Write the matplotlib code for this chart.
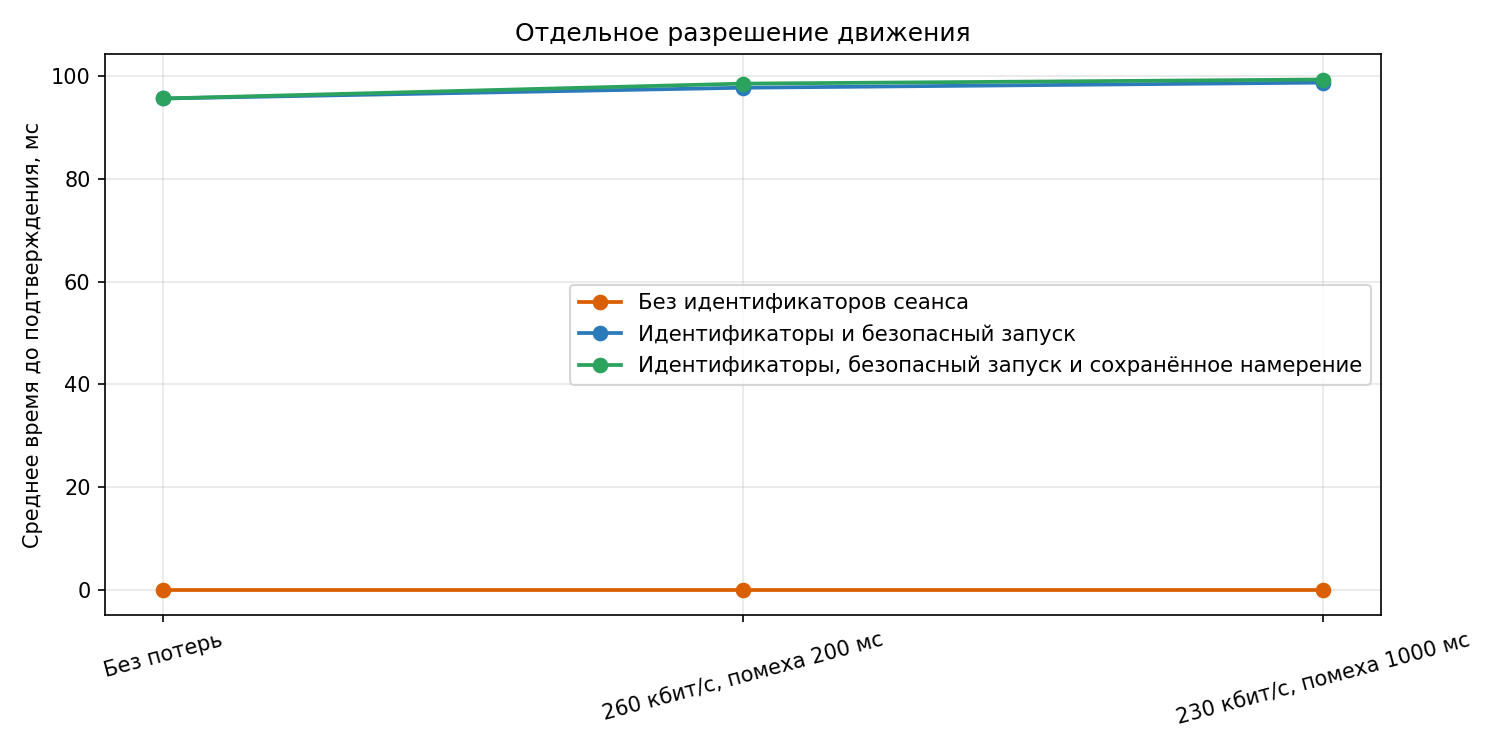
import numpy as np
import matplotlib
matplotlib.use("Agg")
import matplotlib.pyplot as plt

# conditions on the x axis
conditions = ["Без потерь", "260 кбит/с, помеха 200 мс", "230 кбит/с, помеха 1000 мс"]

# mean time to confirmation, ms
no_ids = [0.0, 0.0, 0.0]
ids_safe = [95.7, 97.8, 98.8]
ids_safe_intent = [95.7, 98.6, 99.4]

labels = ["Без идентификаторов сеанса",
          "Идентификаторы и безопасный запуск",
          "Идентификаторы, безопасный запуск и сохранённое намерение"]
colors = ["#d95f02", "#2b7bba", "#2ca25f"]

x = np.arange(len(conditions))

fig, ax = plt.subplots(figsize=(10, 5), dpi=150)
for y, lab, c in zip([no_ids, ids_safe, ids_safe_intent], labels, colors):
    ax.plot(x, y, marker="o", color=c, linewidth=1.8, markersize=6.5, label=lab)

ax.set_xticks(x)
ax.set_xticklabels(conditions, rotation=15)
ax.set_ylabel("Среднее время до подтверждения, мс")
ax.set_title("Отдельное разрешение движения")
ax.grid(True, alpha=0.3)
ax.legend(loc="center right", fontsize=10.2)

plt.tight_layout()
fig.savefig("out.png", dpi=150)
